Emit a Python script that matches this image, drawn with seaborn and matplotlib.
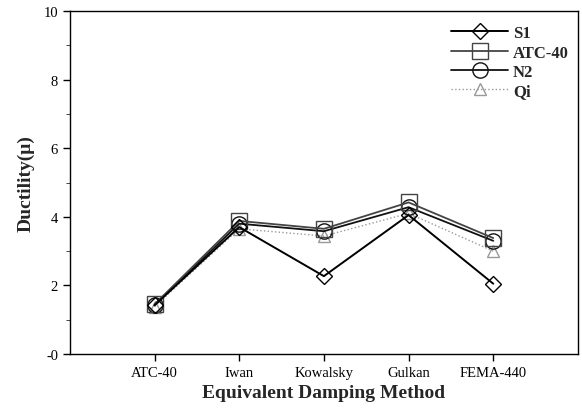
import matplotlib
matplotlib.use("Agg")
import matplotlib.pyplot as plt
import seaborn as sns
import pandas as pd
from matplotlib.ticker import MultipleLocator

methods = ["ATC-40", "Iwan", "Kowalsky", "Gulkan", "FEMA-440"]
s1 = [1.42, 3.70, 2.27, 4.05, 2.05]
atc40 = [1.45, 3.88, 3.65, 4.42, 3.38]
n2 = [1.42, 3.80, 3.58, 4.28, 3.30]
qi = [1.38, 3.65, 3.44, 4.10, 3.00]
series_names = ["S1", "ATC-40", "N2", "Qi"]
yticklabels = ["-0", "2", "4", "6", "8", "10"]

rows = []
for name, vals in zip(series_names, [s1, atc40, n2, qi]):
    for i, v in enumerate(vals):
        rows.append({"x": i + 1, "y": v, "series": name})
df = pd.DataFrame(rows)

sns.set_style("ticks")
plt.rcParams["font.family"] = ["Liberation Serif", "DejaVu Serif"]

fig = plt.figure(figsize=(5.82, 4.14), dpi=100)
ax = fig.add_axes([0.120, 0.1425, 0.873, 0.8285])

styles = {
    "S1": dict(color="black", marker="D", ms=8, lw=1.4, ls="-"),
    "ATC-40": dict(color="#444444", marker="s", ms=11, lw=1.3, ls="-"),
    "N2": dict(color="#111111", marker="o", ms=11, lw=1.3, ls="-"),
    "Qi": dict(color="#999999", marker="^", ms=9, lw=1.0, ls=":"),
}
order = ["Qi", "N2", "ATC-40", "S1"]
for name in order:
    st = styles[name]
    sub = df[df["series"] == name]
    sns.lineplot(data=sub, x="x", y="y", ax=ax, color=st["color"], marker=st["marker"],
                 markersize=st["ms"], linewidth=st["lw"], linestyle=st["ls"],
                 markerfacecolor="none", markeredgecolor=st["color"], markeredgewidth=1.0,
                 label=name, zorder=3 if name == "S1" else 2)

handles, labels = ax.get_legend_handles_labels()
hl = dict(zip(labels, handles))
leg = ax.legend([hl[n] for n in series_names], series_names, loc="upper right",
                frameon=False, handlelength=3.4, borderaxespad=0.15,
                handletextpad=0.3, labelspacing=0.2, prop={"weight": "bold", "size": 12},
                bbox_to_anchor=(1.0, 0.985))

ax.set_xlim(0, 6)
ax.set_ylim(0, 10)
ax.set_xticks(range(1, 6))
ax.set_xticklabels(methods, fontsize=10.5)
ax.set_yticks([0, 2, 4, 6, 8, 10])
ax.set_yticklabels(yticklabels, fontsize=10.5)
ax.yaxis.set_minor_locator(MultipleLocator(1))
ax.tick_params(axis="both", direction="out", length=5, width=1, colors="black")
ax.tick_params(axis="y", which="minor", length=3)
for sp in ax.spines.values():
    sp.set_visible(True)
    sp.set_color("black")
    sp.set_linewidth(1.0)
ax.set_xlabel("Equivalent Damping Method", fontsize=14, fontweight="bold", labelpad=4)
ax.set_ylabel("Ductility(μ)", fontsize=14, fontweight="bold", labelpad=6)

fig.savefig("out.png", dpi=100)
